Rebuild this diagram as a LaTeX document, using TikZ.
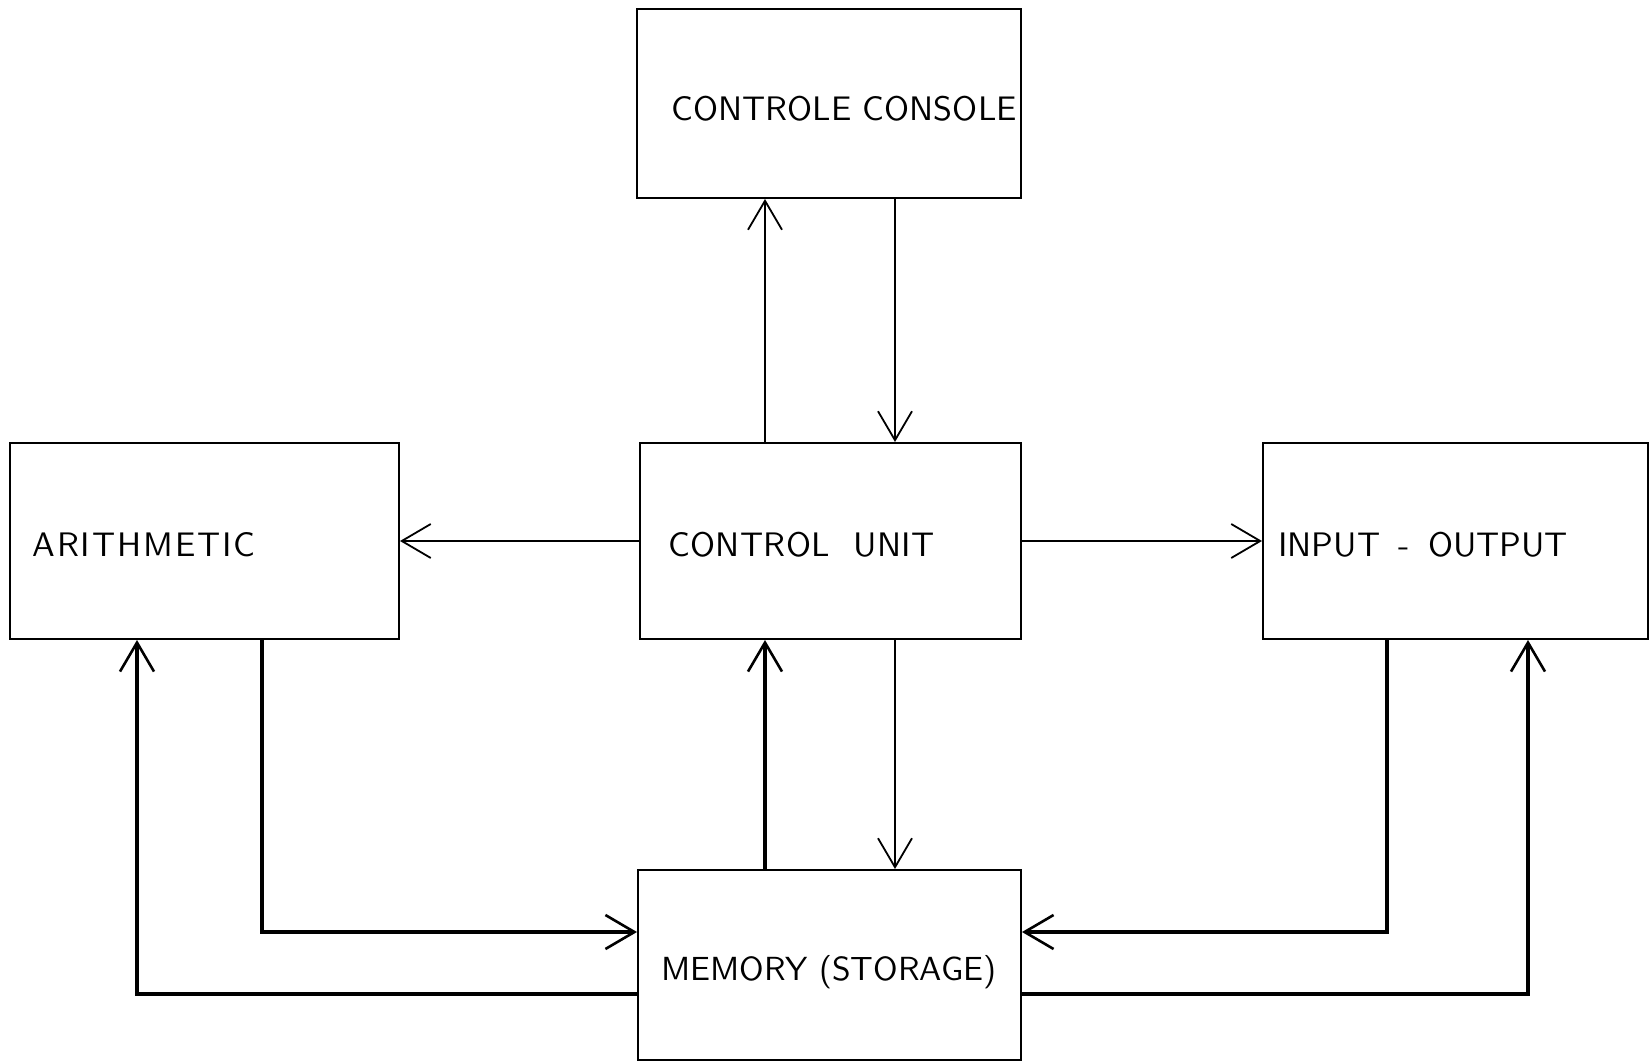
\documentclass[tikz,border=0pt]{standalone}
\usepackage{fontspec}
\usetikzlibrary{arrows.meta}
\newfontfamily\hand{lmsans10-regular}[Extension=.otf]
\newcommand{\spaced}[2]{{\addfontfeatures{LetterSpace=#1}#2}}
\begin{document}
\begin{tikzpicture}[x=0.5pt,y=-0.5pt,
  box/.style={draw, line width=1pt, inner sep=0pt},
  lbl/.style={font=\hand\fontsize{17}{20}\selectfont, anchor=base west, inner sep=0pt},
  thinflow/.style={line width=0.9pt, -{Straight Barb[length=14.5pt,width=17pt,line width=0.9pt]}},
  thickflow/.style={line width=2.4pt, -{Straight Barb[length=14.5pt,width=17pt,line width=1.3pt]}}
]
\fill[white] (0,0) rectangle (1650,1064);
\useasboundingbox (0,0) rectangle (1650,1064);

% units
\node[box, minimum width=192pt, minimum height=94.5pt] (cc) at (829,103.5) {};
\node[box, minimum width=194.5pt, minimum height=98pt] (ar) at (204.5,541) {};
\node[box, minimum width=190.5pt, minimum height=98pt] (cu) at (830.5,541) {};
\node[box, minimum width=192.5pt, minimum height=98pt] (io) at (1455.5,541) {};
\node[box, minimum width=191.5pt, minimum height=95pt] (me) at (829.5,965) {};

% labels
\node[lbl] (ccl) at (671,121) {\spaced{0.2}{CONTROLE CONSOLE}};
\node[lbl] (arl) at (32,556) {\spaced{5.7}{ARITHMETIC}};
\node[lbl] (cul) at (668,556) {\spaced{1.1}{CONTROL\ \ UNIT}};
\node[lbl] (iol) at (1278,556) {INPUT\hspace{0.54em}-\hspace{0.54em}OUTPUT};
\node[lbl, font=\hand\fontsize{16.7}{20}\selectfont] (mel) at (661,980) {MEMORY (STORAGE)};

% routing columns and rows
\coordinate (up) at (765,0);
\coordinate (dn) at (895,0);
\coordinate (al) at (137,0);
\coordinate (arr) at (262,0);
\coordinate (il) at (1387,0);
\coordinate (ir) at (1528,0);
\coordinate (rin) at (0,932);
\coordinate (rout) at (0,994);

% control signals
\draw[thinflow] (cu.north -| up) -- (cc.south -| up);
\draw[thinflow] (cc.south -| dn) -- (cu.north -| dn);
\draw[thinflow] (cu.west) -- (ar.east);
\draw[thinflow] (cu.east) -- (io.west);
\draw[thinflow] (cu.south -| dn) -- (me.north -| dn);

% data paths
\draw[thickflow] (me.north -| up) -- (cu.south -| up);
\draw[thickflow] (ar.south -| arr) |- (me.west |- rin);
\draw[thickflow] (me.west |- rout) -| (ar.south -| al);
\draw[thickflow] (io.south -| il) |- (me.east |- rin);
\draw[thickflow] (me.east |- rout) -| (io.south -| ir);
\end{tikzpicture}
\end{document}
